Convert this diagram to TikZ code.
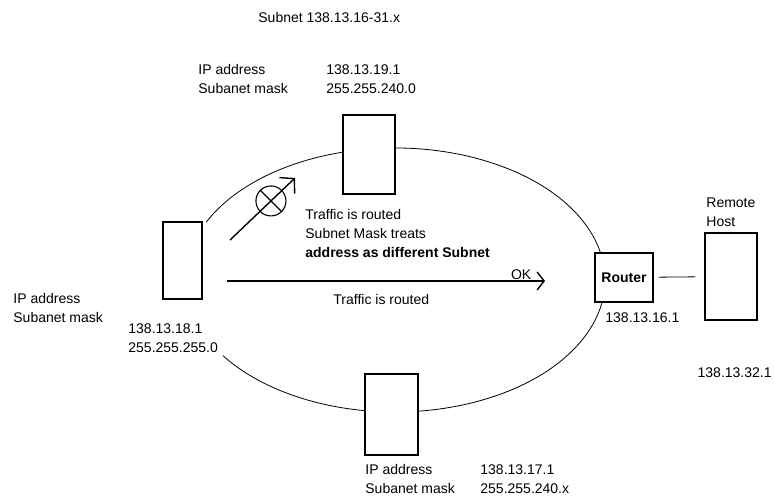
\documentclass[tikz,border=0pt]{standalone}
\usepackage{fontspec}
\setmainfont{Liberation Sans}
\usetikzlibrary{positioning,arrows.meta,calc}
\tikzset{
  net/.style={x=1pt,y=-1pt,line width=0.8pt,
    every node/.style={font=\fontsize{14}{19}\selectfont,inner sep=0pt}},
  hostbox/.style 2 args={draw,fill=white,line width=1.2pt,minimum width=#1,minimum height=#2},
  lbl/.style={anchor=base west,align=left},
  flow/.style={line width=1.4pt},
}

\begin{document}
\begin{tikzpicture}[net]
  \useasboundingbox (0,0) rectangle (774,497);
  % the subnet ring
  \draw ($(395,280)+(206:210 and 132)$) arc[start angle=206,end angle=505,x radius=210,y radius=132];

  \node[hostbox={52}{79}] (top) at (369,154.5) {};
  \node[hostbox={39}{77}] (left) at (182.5,260.5) {};
  \node[hostbox={53}{81}] (bottom) at (391.5,414.5) {};
  \node[hostbox={58}{49}] (router) at (624,277.5) {\bfseries Router};
  \node[hostbox={52}{87}] (host) at (731,276.5) {};
  \draw[shorten <=5pt,shorten >=9pt] (router) -- (host);

  % addresses (base = last line)
  \node[lbl] (title) at (258,23) {Subnet 138.13.16-31.x};
  \node[lbl] (topkey) at (198,94) {IP address\\Subanet mask};
  \node[lbl] (topval) at (326,94) {138.13.19.1\\255.255.240.0};
  \node[lbl] (leftkey) at (13,322) {IP address\\Subanet mask};
  \node[lbl] (leftval) at (128,352) {138.13.18.1\\255.255.255.0};
  \node[lbl] (botkey) at (365,493) {IP address\\Subanet mask};
  \node[lbl] (botval) at (480,493) {138.13.17.1\\255.255.240.x};
  \node[lbl] (routerip) at (605,322) {138.13.16.1};
  \node[lbl] (hostname) at (706,227) {Remote\\Host};
  \node[lbl,anchor=base east] (hostip) at (772,377) {138.13.32.1};

  % blocked traffic
  \coordinate (bs) at (230,240);
  \coordinate (be) at (295,178);
  \draw[flow,-{Straight Barb[length=10pt,width=22pt]}] (bs) -- (be);
  \path (bs) -- (be) node[pos=.63,draw,circle,minimum size=30pt,line width=1.1pt] (blk) {};
  \draw[line width=1.1pt] (blk.135) -- (blk.-45);
  \node[lbl] (nomsg) at (305,258) {Traffic is routed\\Subnet Mask treats\\\textbf{address as different Subnet}};

  % routed traffic
  \coordinate (os) at (227,281);
  \coordinate (oe) at (545,281);
  \draw[flow,-{Straight Barb[length=7pt,width=18pt]}] (os) -- (oe) node[pos=.925,above=1pt] (ok) {OK};
  \node[lbl] (okmsg) at (333,304) {Traffic is routed};
\end{tikzpicture}
\end{document}
